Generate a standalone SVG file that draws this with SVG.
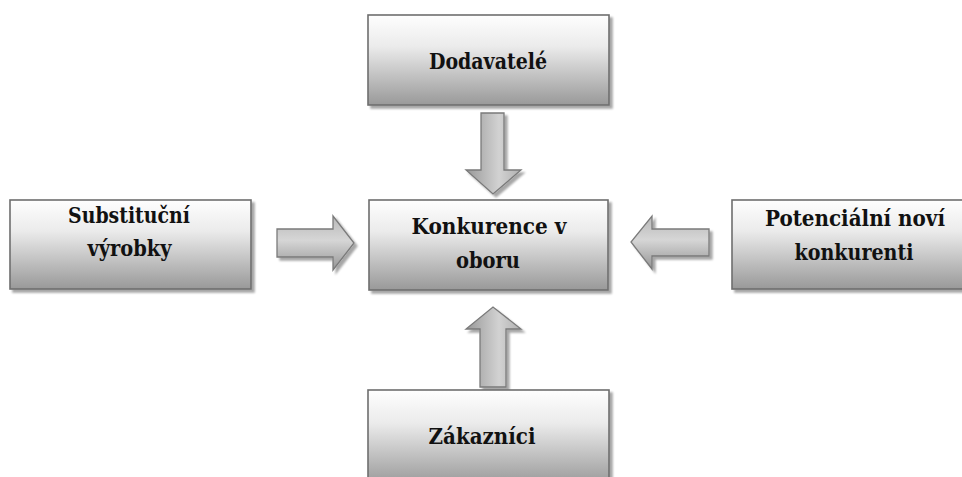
<svg xmlns="http://www.w3.org/2000/svg" width="962" height="477" viewBox="0 0 962 477">
<defs>
<linearGradient id="boxg" x1="0" y1="0" x2="0" y2="1">
<stop offset="0" stop-color="#fefefe"/>
<stop offset="0.35" stop-color="#ebebeb"/>
<stop offset="1" stop-color="#999999"/>
</linearGradient>
<linearGradient id="arrv" x1="0" y1="0" x2="1" y2="0">
<stop offset="0" stop-color="#989898"/>
<stop offset="0.6" stop-color="#d2d2d2"/>
<stop offset="1" stop-color="#b0b0b0"/>
</linearGradient>
<linearGradient id="arrh" x1="0" y1="0" x2="0" y2="1">
<stop offset="0" stop-color="#b8b8b8"/>
<stop offset="0.45" stop-color="#d6d6d6"/>
<stop offset="1" stop-color="#959595"/>
</linearGradient>
<filter id="sh" x="-10%" y="-10%" width="130%" height="130%">
<feGaussianBlur in="SourceAlpha" stdDeviation="1.2"/>
<feOffset dx="3" dy="3" result="b"/>
<feComponentTransfer><feFuncA type="linear" slope="0.35"/></feComponentTransfer>
<feMerge><feMergeNode/><feMergeNode in="SourceGraphic"/></feMerge>
</filter>
<style>
.box{fill:url(#boxg);stroke:#6e6e6e;stroke-width:1.6;filter:url(#sh)}
.t{font-family:'DejaVu Serif Condensed','DejaVu Serif','Liberation Serif',serif;font-weight:bold;font-size:22px;fill:#111;text-anchor:middle}
.av{fill:url(#arrv);stroke:#7a7a7a;stroke-width:1.3;filter:url(#sh)}
.ah{fill:url(#arrh);stroke:#7a7a7a;stroke-width:1.3;filter:url(#sh)}
</style>
</defs>
<rect width="962" height="477" fill="#ffffff"/>
<g id="connectors">
<path class="av" d="M481,113 H504 V170 H521 L493,194 L466,170 H481 Z"/>
<path class="av" d="M480,387 H506 V329 H521 L493,307 L466,329 H480 Z"/>
<path class="ah" d="M277,229 H333 V216 L354,243 L333,270 V257 H277 Z"/>
<path class="ah" d="M709,229 H652 V216 L631,242 L652,269 V256 H709 Z"/>
</g>
<g id="dodavatele">
<rect class="box" x="368" y="15" width="241" height="90"/>
<text class="t" x="488" y="69" textLength="118" lengthAdjust="spacingAndGlyphs">Dodavatelé</text>
</g>
<g id="substitucni">
<rect class="box" x="10" y="200" width="241" height="89"/>
<text class="t" x="129" y="223" textLength="122" lengthAdjust="spacingAndGlyphs">Substituční</text>
<text class="t" x="129.5" y="256" textLength="84" lengthAdjust="spacingAndGlyphs">výrobky</text>
</g>
<g id="konkurence">
<rect class="box" x="369" y="200" width="239" height="90"/>
<text class="t" x="489" y="234" textLength="155" lengthAdjust="spacingAndGlyphs">Konkurence v</text>
<text class="t" x="488" y="268" textLength="64" lengthAdjust="spacingAndGlyphs">oboru</text>
</g>
<g id="potencialni">
<rect class="box" x="732" y="200" width="240" height="89"/>
<text class="t" x="855" y="226" textLength="180" lengthAdjust="spacingAndGlyphs">Potenciální noví</text>
<text class="t" x="854" y="260" textLength="119" lengthAdjust="spacingAndGlyphs">konkurenti</text>
</g>
<g id="zakaznici">
<rect class="box" x="368" y="390" width="241" height="95"/>
<text class="t" x="482" y="444" textLength="107" lengthAdjust="spacingAndGlyphs">Zákazníci</text>
</g>
</svg>
